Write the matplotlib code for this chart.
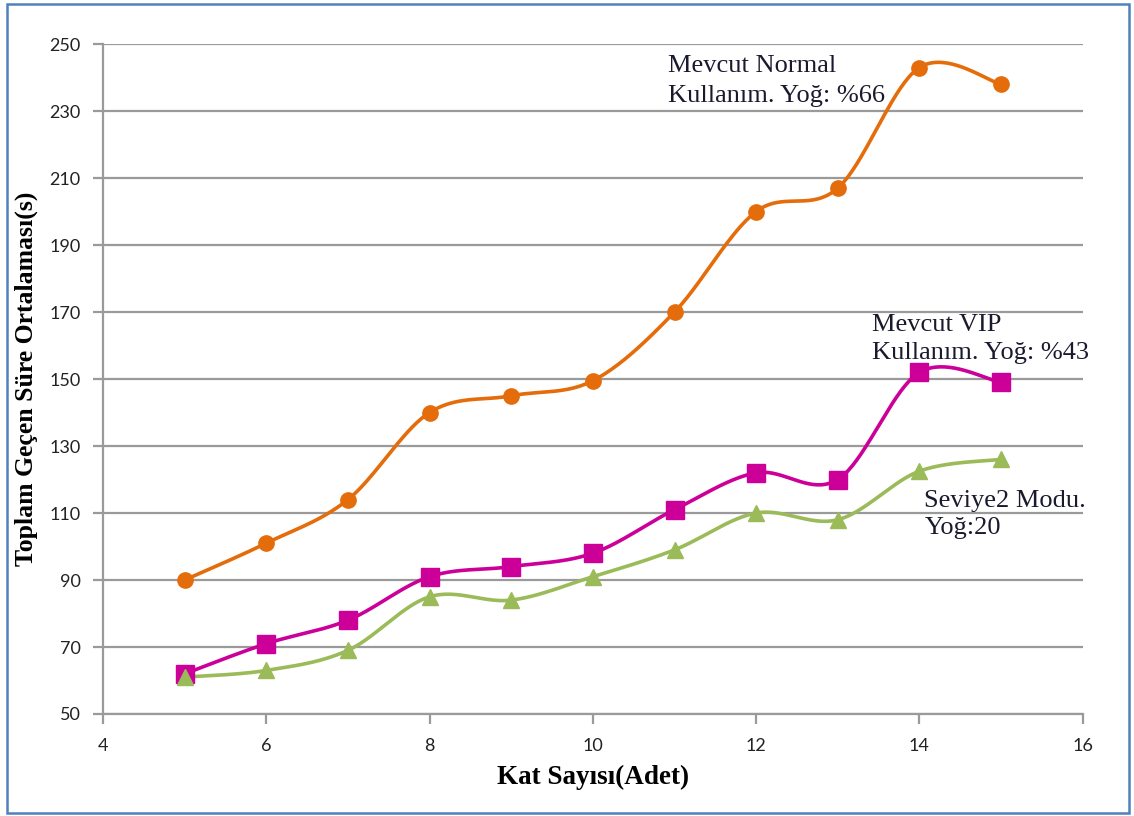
import numpy as np
import matplotlib
matplotlib.use("Agg")
import matplotlib.pyplot as plt
from matplotlib.patches import Rectangle

floors = [5, 6, 7, 8, 9, 10, 11, 12, 13, 14, 15]
normal = [90, 101, 114, 140, 145, 149.5, 170, 200, 207, 243, 238]
vip = [62, 71, 78, 91, 94, 98, 111, 122, 120, 152, 149]
level2 = [61, 63, 69, 85, 84, 91, 99, 110, 108, 122.5, 126]

x_ticks = [4, 6, 8, 10, 12, 14, 16]
y_ticks = [50, 70, 90, 110, 130, 150, 170, 190, 210, 230, 250]


def smooth(xs, ys, n=40):
    """Catmull-Rom style smoothing through every point (spreadsheet-like)."""
    p = np.column_stack([xs, ys]).astype(float)
    out = []
    for i in range(len(p) - 1):
        p0 = p[i - 1] if i > 0 else p[i]
        p1, p2 = p[i], p[i + 1]
        p3 = p[i + 2] if i + 2 < len(p) else p[i + 1]
        c1 = p1 + (p2 - p0) / 6.0
        c2 = p2 - (p3 - p1) / 6.0
        t = np.linspace(0, 1, n)[:, None]
        seg = ((1 - t) ** 3) * p1 + 3 * ((1 - t) ** 2) * t * c1 + 3 * (1 - t) * t ** 2 * c2 + t ** 3 * p2
        out.append(seg if i == 0 else seg[1:])
    s = np.vstack(out)
    return s[:, 0], s[:, 1]


fig = plt.figure(figsize=(11.34, 8.16), dpi=100)
ax = fig.add_axes([0.0908, 0.125, 0.864, 0.821])

series = [
    (normal, "#E46C0A", "o", 11),
    (vip, "#CC0099", "s", 12.5),
    (level2, "#9BBB59", "^", 12),
]
for ys, col, mk, ms in series:
    sx, sy = smooth(floors, ys)
    ax.plot(sx, sy, color=col, lw=2.6, zorder=3, solid_capstyle="round")
    ax.plot(floors, ys, ls="none", marker=mk, ms=ms, color=col, zorder=4)

ax.set_xlim(4, 16)
ax.set_ylim(50, 250)
ax.set_xticks(x_ticks)
ax.set_yticks(y_ticks)
ax.yaxis.grid(True, color="#9a9a9a", lw=1.6)
ax.set_axisbelow(True)
for side in ("top", "right"):
    ax.spines[side].set_visible(False)
for side in ("left", "bottom"):
    ax.spines[side].set_color("#9a9a9a")
    ax.spines[side].set_linewidth(1.6)
ax.tick_params(axis="both", colors="#9a9a9a", length=7, width=1.6, direction="out")
for lbl in ax.get_xticklabels() + ax.get_yticklabels():
    lbl.set_color("#222222")
    lbl.set_fontfamily("Lato")
    lbl.set_fontsize(13)
ax.tick_params(axis="y", pad=9)
ax.tick_params(axis="x", pad=10)

ax.set_xlabel("Kat Sayısı(Adet)", fontfamily="Liberation Serif", fontweight="bold",
              fontsize=19.5, labelpad=8)
ax.set_ylabel("Toplam Geçen Süre Ortalaması(s)", fontfamily="Liberation Serif",
              fontweight="bold", fontsize=18.5, labelpad=6)
ax.yaxis.set_label_coords(-0.066, 0.50)

txt_kw = dict(fontfamily="Liberation Serif", fontsize=19, color="#1a1a2e",
              va="center", ha="left")
ax.text(10.92, 239, "Mevcut Normal\nKullanım. Yoğ: %66", linespacing=1.45, **txt_kw)
ax.text(13.42, 162, "Mevcut VIP\nKullanım. Yoğ: %43", linespacing=1.38, **txt_kw)
ax.text(14.06, 109.5, "Seviye2 Modu.\nYoğ:20", linespacing=1.3, **txt_kw)

fig.patches.append(Rectangle((0.006, 0.004), 0.99, 0.991, transform=fig.transFigure,
                             fill=False, edgecolor="#4F81BD", lw=1.8))

fig.savefig("out.png", dpi=100, facecolor="white")
